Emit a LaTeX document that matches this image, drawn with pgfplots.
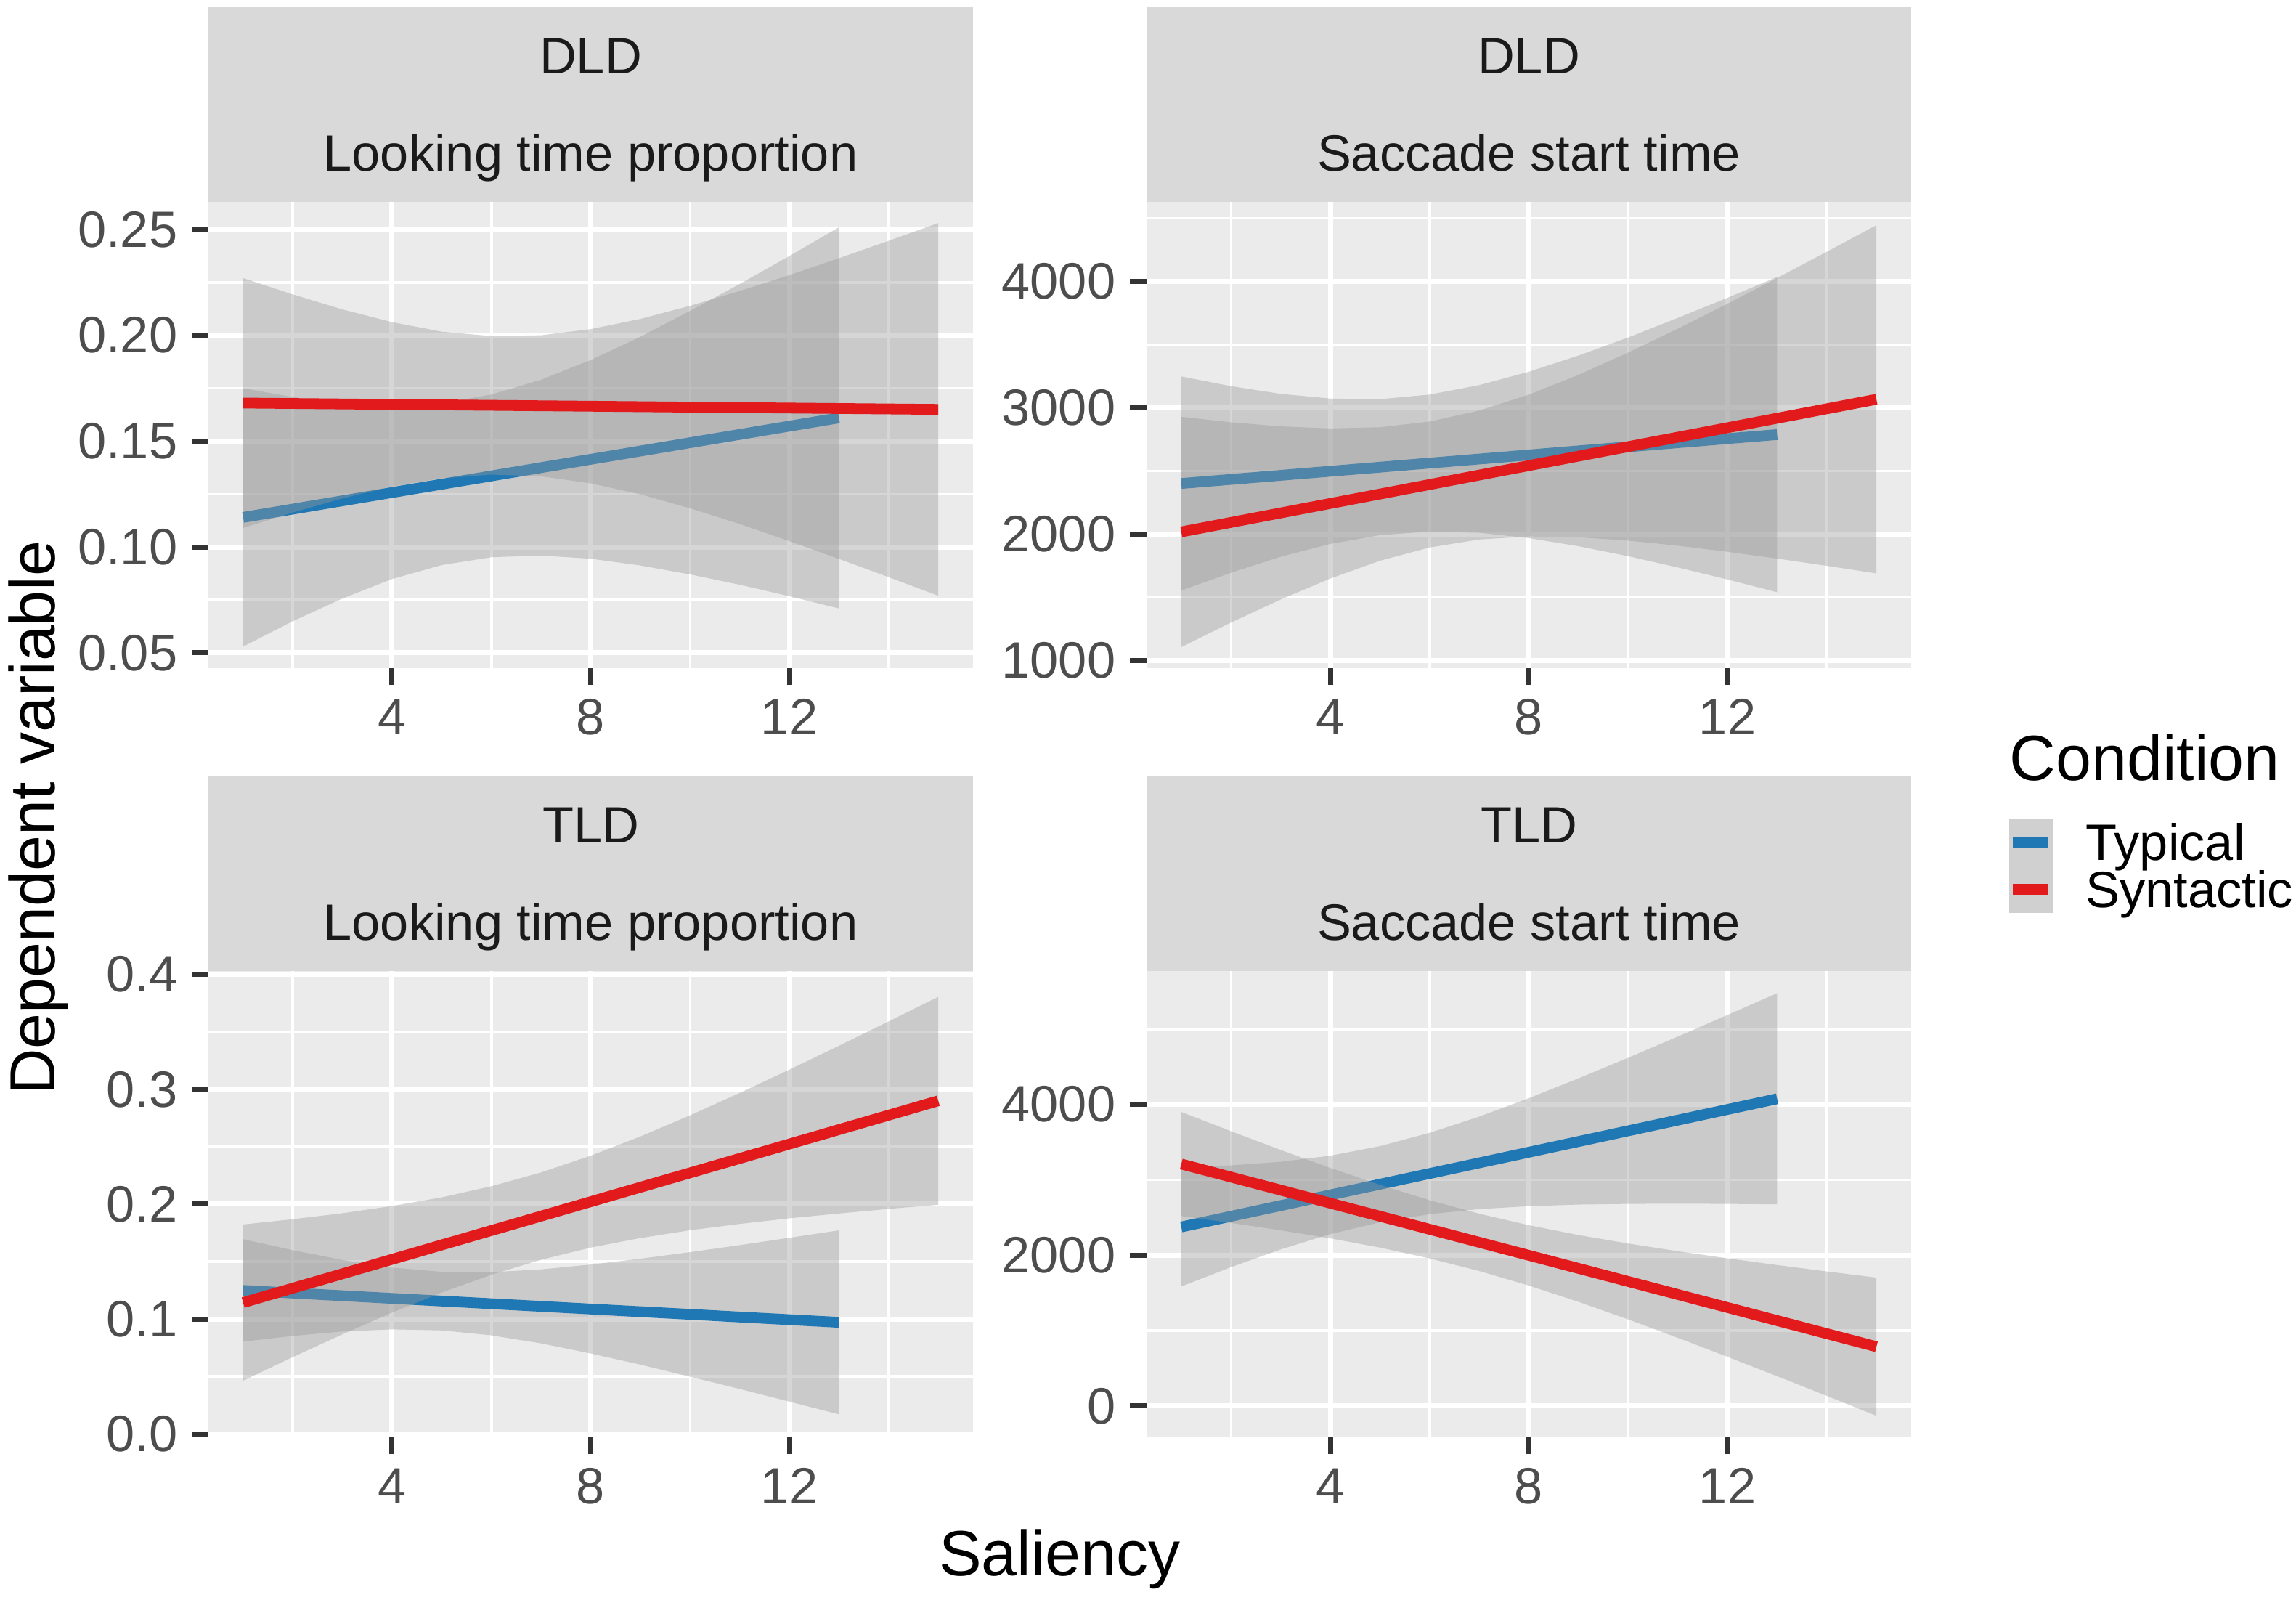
\documentclass[border=0pt]{standalone}
\usepackage{fontspec}
\setmainfont{Liberation Sans}
\usepackage{pgfplots}
\pgfplotsset{compat=1.18}
\definecolor{panelbg}{HTML}{EBEBEB}
\definecolor{stripbg}{HTML}{D9D9D9}
\definecolor{ribbon}{HTML}{999999}
\definecolor{typblue}{HTML}{1F78B4}
\definecolor{synred}{HTML}{E31A1C}
\definecolor{ticktext}{HTML}{4D4D4D}
\definecolor{tickmark}{HTML}{333333}
\definecolor{striptext}{HTML}{1A1A1A}
\definecolor{keybg}{HTML}{D0D0D0}
\newcommand{\smallfont}{\fontsize{17.6}{21}\selectfont}
\newcommand{\bigfont}{\fontsize{22}{26}\selectfont}
\pgfplotsset{
  facet/.style={
    scale only axis, width=263.25pt, height=160.5pt, anchor=south west,
    xmin=0.3, xmax=15.7,
    axis background/.style={fill=panelbg},
    axis line style={draw=none},
    xtick={4,8,12}, minor xtick={2,6,10,14},
    grid=both,
    major grid style={draw=white, line width=1.75pt},
    minor grid style={draw=white, line width=0.875pt},
    tick align=outside, tick pos=left,
    major tick length=5.75pt, minor tick length=0pt,
    tick style={draw=tickmark, line width=1.75pt},
    tick label style={font=\smallfont, text=ticktext},
    /pgf/number format/assume math mode=true,
    /pgf/number format/1000 sep={},
    scaled ticks=false,
    xticklabel style={anchor=north, inner sep=0pt, yshift=-4.75pt},
    yticklabel style={anchor=east, inner sep=0pt, xshift=-4.75pt},
  },
  rib/.style={fill=ribbon, fill opacity=0.4, draw=none, forget plot},
  fitline/.style={line width=3.7pt, line cap=butt},
}
\begin{document}
\begin{tikzpicture}
\useasboundingbox (0pt,0pt) rectangle (790.5pt,550.75pt);

% strips
\fill[stripbg] (71.75pt,481.25pt) rectangle (335pt,548.25pt);
\fill[stripbg] (394.75pt,481.25pt) rectangle (658pt,548.25pt);
\fill[stripbg] (71.75pt,216.5pt) rectangle (335pt,283.5pt);
\fill[stripbg] (394.75pt,216.5pt) rectangle (658pt,283.5pt);
\begin{scope}[every node/.style={anchor=base, font=\smallfont, text=striptext, inner sep=0pt}]
\node at (203.375pt,525.25pt) {DLD};
\node at (203.375pt,491.75pt) {Looking time proportion};
\node at (526.375pt,525.25pt) {DLD};
\node at (526.375pt,491.75pt) {Saccade start time};
\node at (203.375pt,260.5pt) {TLD};
\node at (203.375pt,227pt) {Looking time proportion};
\node at (526.375pt,260.5pt) {TLD};
\node at (526.375pt,227pt) {Saccade start time};
\end{scope}

% DLD - Looking time proportion
\begin{axis}[facet, at={(71.75pt,320.75pt)},
  ymin=0.0428, ymax=0.263,
  ytick={0.05,0.10,0.15,0.20,0.25}, minor ytick={0.075,0.125,0.175,0.225},
  yticklabel style={/pgf/number format/.cd, fixed, fixed zerofill, precision=2}]
\addplot[rib] coordinates {(1,.1750)(2,.1708)(3,.1679)(4,.1667)(5,.1679)(6,.1720)(7,.1790)(8,.1883)(9,.1993)(10,.2115)(11,.2242)(12,.2374)(13,.2510)
 (13,.0710)(12,.0768)(11,.0822)(10,.0871)(9,.0913)(8,.0945)(7,.0960)(6,.0952)(5,.0915)(4,.0849)(3,.0757)(2,.0650)(1,.0530)} -- cycle;
\addplot[fitline, typblue] coordinates {(1,0.114)(13,0.161)};
\addplot[rib] coordinates {(1,.2270)(2,.2193)(3,.2122)(4,.2062)(5,.2017)(6,.1996)(7,.2000)(8,.2029)(9,.2077)(10,.2139)(11,.2209)(12,.2284)(13,.2364)(14,.2446)(15,.2530)
 (15,.0770)(14,.0858)(13,.0944)(12,.1028)(11,.1109)(10,.1183)(9,.1249)(8,.1301)(7,.1334)(6,.1342)(5,.1325)(4,.1286)(3,.1230)(2,.1163)(1,.1090)} -- cycle;
\addplot[fitline, synred] coordinates {(1,0.168)(15,0.165)};
\end{axis}

% DLD - Saccade start time
\begin{axis}[facet, at={(394.75pt,320.75pt)},
  ymin=941, ymax=4630,
  ytick={1000,2000,3000,4000}, minor ytick={1500,2500,3500,4500},
  yticklabel style={/pgf/number format/.cd, fixed, precision=0}]
\addplot[rib] coordinates {(1,3249)(2,3172)(3,3111)(4,3074)(5,3069)(6,3105)(7,3180)(8,3286)(9,3414)(10,3557)(11,3712)(12,3871)(13,4036)
 (13,1542)(12,1643)(11,1738)(10,1827)(9,1906)(8,1970)(7,2012)(6,2021)(5,1993)(4,1924)(3,1823)(2,1696)(1,1555)} -- cycle;
\addplot[fitline, typblue] coordinates {(1,2402)(13,2789)};
\addplot[rib] coordinates {(1,2930)(2,2886)(3,2854)(4,2838)(5,2847)(6,2892)(7,2979)(8,3105)(9,3261)(10,3438)(11,3626)(12,3824)(13,4028)(14,4235)(15,4445)
 (15,1691)(14,1751)(13,1808)(12,1862)(11,1910)(10,1950)(9,1977)(8,1983)(7,1959)(6,1896)(5,1791)(4,1650)(3,1484)(2,1302)(1,1108)} -- cycle;
\addplot[fitline, synred] coordinates {(1,2019)(15,3068)};
\end{axis}

% TLD - Looking time proportion
\begin{axis}[facet, at={(71.75pt,56pt)},
  ymin=-0.003, ymax=0.403,
  ytick={0,0.1,0.2,0.3,0.4}, minor ytick={0.05,0.15,0.25,0.35},
  yticklabel style={/pgf/number format/.cd, fixed, fixed zerofill, precision=1}]
\addplot[rib] coordinates {(1,.1695)(2,.1599)(3,.1514)(4,.1448)(5,.1411)(6,.1408)(7,.1432)(8,.1474)(9,.1525)(10,.1582)(11,.1643)(12,.1707)(13,.1772)
 (13,.0170)(12,.0281)(11,.0391)(10,.0498)(9,.0603)(8,.0700)(7,.0788)(6,.0858)(5,.0901)(4,.0910)(3,.0892)(2,.0853)(1,.0803)} -- cycle;
\addplot[fitline, typblue] coordinates {(1,0.1249)(13,0.0971)};
\addplot[rib] coordinates {(1,.1823)(2,.1869)(3,.1921)(4,.1984)(5,.2059)(6,.2156)(7,.2276)(8,.2422)(9,.2589)(10,.2773)(11,.2968)(12,.3171)(13,.3379)(14,.3591)(15,.3805)
 (15,.1995)(14,.1959)(13,.1919)(12,.1877)(11,.1828)(10,.1773)(9,.1705)(8,.1622)(7,.1516)(6,.1386)(5,.1231)(4,.1056)(3,.0867)(2,.0669)(1,.0463)} -- cycle;
\addplot[fitline, synred] coordinates {(1,0.1143)(15,0.290)};
\end{axis}

% TLD - Saccade start time (with legend)
\begin{axis}[facet, at={(394.75pt,56pt)},
  ymin=-415, ymax=5770,
  ytick={0,2000,4000}, minor ytick={1000,3000,5000},
  yticklabel style={/pgf/number format/.cd, fixed, precision=0},
  legend cell align=left,
  legend style={draw=none, fill=none, at={(1.1254,1.3271)}, anchor=north west,
    inner sep=0pt, outer sep=0pt, row sep=0pt, column sep=0pt,
    cells={anchor=west},
    nodes={inner sep=0pt, text height=14.5pt, text depth=1.75pt, font=\smallfont, text=black}},
  legend image code/.code={
    \path[fill=keybg, draw=none] (0pt,-8.125pt) rectangle (15pt,8.125pt);
    \draw[line width=3.75pt, #1] (1.25pt,0pt) -- (13.5pt,0pt);
    \path[draw=none, fill=none] (0pt,0pt) -- (26.5pt,0pt);
  }]
\addplot[rib] coordinates {(1,3164)(2,3192)(3,3239)(4,3320)(5,3447)(6,3623)(7,3838)(8,4083)(9,4346)(10,4619)(11,4900)(12,5187)(13,5475)
 (13,2675)(12,2681)(11,2684)(10,2681)(9,2672)(8,2651)(7,2612)(6,2545)(5,2437)(4,2280)(3,2077)(2,1842)(1,1586)} -- cycle;
\addplot[fitline, typblue] coordinates {(1,2375)(13,4075)};
\addlegendentry{Typical}
\addplot[rib] coordinates {(1,3900)(2,3645)(3,3397)(4,3158)(5,2934)(6,2730)(7,2551)(8,2398)(9,2268)(10,2155)(11,2053)(12,1959)(13,1870)(14,1785)(15,1703)
 (15,-129)(14,135)(13,396)(12,653)(11,905)(10,1149)(9,1382)(8,1598)(7,1791)(6,1958)(5,2102)(4,2224)(3,2331)(2,2429)(1,2520)} -- cycle;
\addplot[fitline, synred] coordinates {(1,3210)(15,787)};
\addlegendentry{Syntactic}
\end{axis}

% axis titles and legend title
\node[anchor=base, font=\bigfont, inner sep=0pt] at (364.9pt,8.25pt) {Saliency};
\node[anchor=base, rotate=90, font=\bigfont, inner sep=0pt] at (19pt,269.25pt) {Dependent variable};
\node[anchor=base west, font=\bigfont, inner sep=0pt] at (691.75pt,282pt) {Condition};
\end{tikzpicture}
\end{document}
